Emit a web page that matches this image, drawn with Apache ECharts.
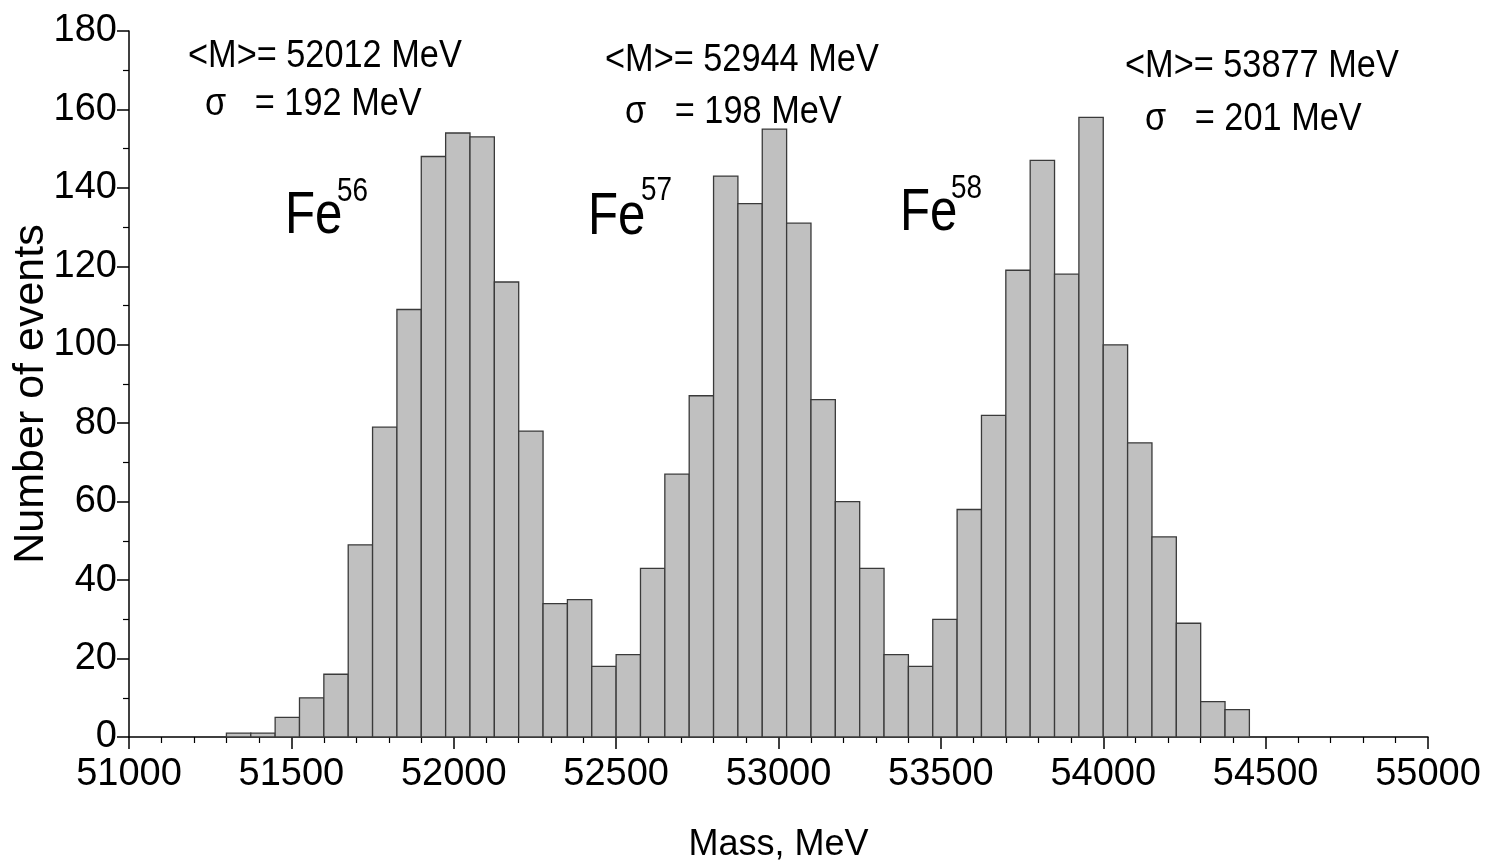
<!DOCTYPE html>
<html><head><meta charset="utf-8">
<script src="https://cdn.jsdelivr.net/npm/echarts@6/dist/echarts.min.js"></script>
<style>html,body{margin:0;padding:0;background:#fff}#c{width:1499px;height:866px}</style>
</head><body><div id="c"></div>
<script>
// Histogram bins (lower edges, MeV) and counts
const binStart = [51300,51375,51450,51525,51600,51675,51750,51825,51900,51975,52050,52125,52200,52275,52350,52425,52500,52575,52650,52725,52800,52875,52950,53025,53100,53175,53250,53325,53400,53475,53550,53625,53700,53775,53850,53925,54000,54075,54150,54225,54300,54375];
const counts = [1,1,5,10,16,49,79,109,148,154,153,116,78,34,35,18,21,43,67,87,143,136,155,131,86,60,43,21,18,30,58,82,119,147,118,158,100,75,51,29,9,7];
const binWidth = 75;
const isotopes = ['Fe', 'Fe', 'Fe'];
const massNumbers = ['56', '57', '58'];
const meanTexts = ['<M>= 52012 MeV', '<M>= 52944 MeV', '<M>= 53877 MeV'];
const sigmaTexts = ['\u03c3   = 192 MeV', '\u03c3   = 198 MeV', '\u03c3   = 201 MeV'];
const xTitle = 'Mass, MeV';
const yTitle = 'Number of events';

const FONT = 'Liberation Sans';

const chart = echarts.init(document.getElementById('c'), null, {renderer: 'canvas'});

const meanPos = [[188, 56], [605, 60], [1125, 66]];
const sigmaPos = [[205, 104], [625, 112], [1145, 119]];
const fePos = [[285, 216], [588, 217], [900, 213]];
const supPos = [[337, 192], [641, 191], [951, 189]];

function txt(t, x, y, size, sx) {
  return {type: 'text', x: x, y: y, scaleX: sx, scaleY: 1,
    style: {text: t, font: size + 'px "' + FONT + '"', fill: '#000', verticalAlign: 'middle', align: 'left'}};
}
const graphics = [];
for (let i = 0; i < 3; i++) {
  graphics.push(txt(meanTexts[i], meanPos[i][0], meanPos[i][1], 39, 0.88));
  graphics.push(txt(sigmaTexts[i], sigmaPos[i][0], sigmaPos[i][1], 39, 0.88));
  graphics.push(txt(isotopes[i], fePos[i][0], fePos[i][1], 60, 0.82));
  graphics.push(txt(massNumbers[i], supPos[i][0], supPos[i][1], 34, 0.82));
}
// y-axis title
graphics.push({type: 'text', x: 31, y: 394, rotation: Math.PI / 2,
  style: {text: yTitle, font: '43px "' + FONT + '"', fill: '#000', align: 'center', verticalAlign: 'middle'}});

chart.setOption({
  animation: false,
  backgroundColor: '#fff',
  grid: {left: 129, right: 71, top: 31, bottom: 129, containLabel: false, outerBoundsMode: 'none'},
  xAxis: {
    type: 'value', min: 51000, max: 55000, interval: 500,
    name: xTitle, nameLocation: 'middle', nameGap: 90,
    nameTextStyle: {fontFamily: FONT, fontSize: 36, color: '#000'},
    axisLine: {show: true, onZero: false, lineStyle: {color: '#000', width: 1.5}},
    axisTick: {show: true, inside: false, length: 12, lineStyle: {color: '#000', width: 1.5}},
    minorTick: {show: true, splitNumber: 5, length: 6, lineStyle: {color: '#000', width: 1.2}},
    splitLine: {show: false},
    axisLabel: {fontFamily: FONT, fontSize: 38, color: '#000', margin: 19, formatter: v => String(v)}
  },
  yAxis: {
    type: 'value', min: 0, max: 180, interval: 20,
    axisLine: {show: true, onZero: false, lineStyle: {color: '#000', width: 1.5}},
    axisTick: {show: true, inside: false, length: 12, lineStyle: {color: '#000', width: 1.5}},
    minorTick: {show: true, splitNumber: 2, length: 6, lineStyle: {color: '#000', width: 1.2}},
    splitLine: {show: false},
    axisLabel: {fontFamily: FONT, fontSize: 38, color: '#000', margin: 12, formatter: v => String(v)}
  },
  series: [{
    type: 'custom',
    data: binStart.map((s, i) => [s, s + binWidth, counts[i]]),
    encode: {x: [0, 1], y: 2},
    renderItem: function (params, api) {
      const p0 = api.coord([api.value(0), api.value(2)]);
      const p1 = api.coord([api.value(1), 0]);
      return {
        type: 'rect',
        shape: {x: p0[0], y: p0[1], width: p1[0] - p0[0], height: p1[1] - p0[1]},
        style: {fill: '#c0c0c0', stroke: '#3a3a3a', lineWidth: 1.3}
      };
    }
  }],
  graphic: graphics
});
</script>
</body></html>
